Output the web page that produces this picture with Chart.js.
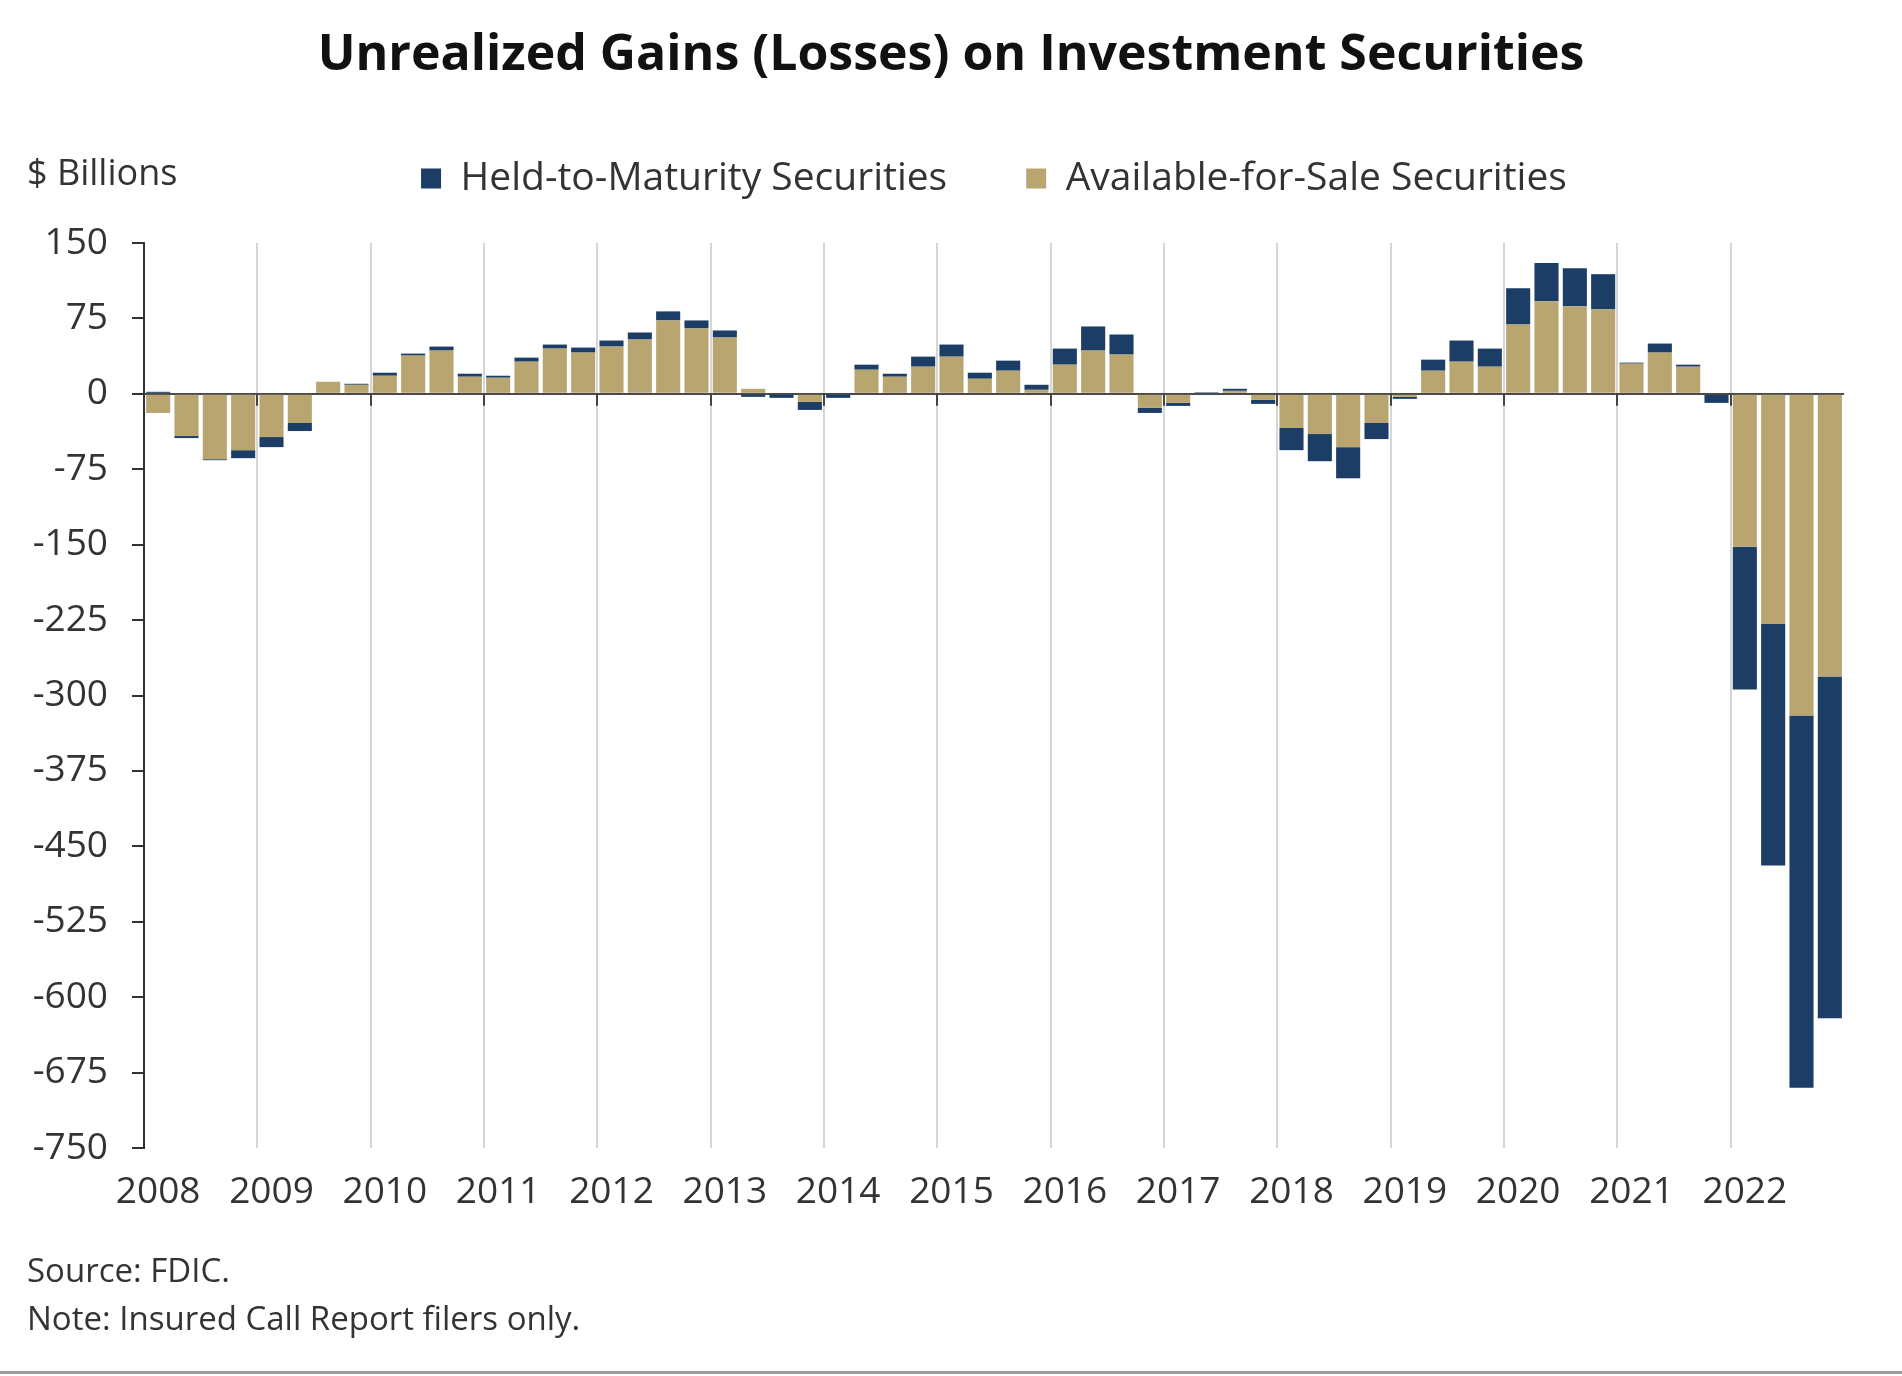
<!DOCTYPE html>
<html>
<head>
<meta charset="utf-8">
<title>Unrealized Gains (Losses) on Investment Securities</title>
<script src="https://cdn.jsdelivr.net/npm/chart.js@4.4.1/dist/chart.umd.min.js"></script>
<style>
  html, body { margin: 0; padding: 0; background: #fff; }
  #wrap { position: relative; width: 1902px; height: 1376px; overflow: hidden;
          font-family: "Open Sans", sans-serif; color: #333; }
  #chart { position: absolute; left: 0; top: 0; }
  .unit { position: absolute; left: 27px; top: 148px; font-size: 36px; line-height: 48px; }
  .foot { position: absolute; left: 27px; font-size: 33px; line-height: 42px; }
  .rule { position: absolute; left: 0; right: 0; bottom: 2px; height: 3px; background: #9c9c9c; }
</style>
</head>
<body>
<div id="wrap">
  <canvas id="chart" width="1902" height="1376"></canvas>
  <div class="unit">$ Billions</div>
  <div class="foot" style="top:1249px">Source: FDIC.</div>
  <div class="foot" style="top:1297px">Note: Insured Call Report filers only.</div>
  <div class="rule"></div>
</div>
<script>
// quarterly data, Q1 2008 .. Q4 2022, $ billions
const years = ["2008", "2009", "2010", "2011", "2012", "2013", "2014", "2015",
               "2016", "2017", "2018", "2019", "2020", "2021", "2022"];
const quarters = ["Q1", "Q2", "Q3", "Q4"];

const availableForSale = [
  -19, -42, -65, -56,   -43, -29, 12, 9,     18, 38, 43, 17,     16, 32, 45, 41,
   47, 54, 73, 65,       56, 5, 1, -8,      -1, 24, 17, 27,      37, 15, 23, 4,
   29, 43, 39, -14,     -9, 1, 3, -6,      -34, -40, -53, -29,   -3, 23, 32, 27,
   69, 92, 87, 84,       30, 41, 27, -1,   -152, -229, -320, -281
];
const heldToMaturity = [
   2, -2, -1, -8,       -10, -8, 0, 1,      3, 2, 4, 3,          2, 4, 4, 5,
   6, 7, 9, 8,           7, -3, -4, -8,     -3, 5, 3, 10,        12, 6, 10, 5,
   16, 24, 20, -5,      -3, 0.5, 2, -4,    -22, -27, -31, -16,   -2, 11, 21, 18,
   36, 38, 38, 35,       1, 9, 2, -8,      -142, -240, -370, -340
];

const yMin = -750;
const yMax = 150;
const yStep = 75;

const categories = [];
years.forEach(y => quarters.forEach(q => categories.push(y + " " + q)));

Chart.defaults.font.family = '"Open Sans", sans-serif';
Chart.defaults.color = "#333";

// gives the legend some room below it, like the original
const legendSpacer = {
  id: "legendSpacer",
  beforeUpdate(chart) {
    const lg = chart.legend;
    if (lg && !lg._spaced) {
      const fit = lg.fit;
      lg.fit = function () { fit.call(this); this.height += 35; };
      lg._spaced = true;
    }
  }
};

// small tick marks hanging under the zero line at each year boundary
const zeroTicks = {
  id: "zeroTicks",
  afterDraw(chart) {
    const x = chart.scales.x, y = chart.scales.y;
    const y0 = y.getPixelForValue(0);
    const half = (x.getPixelForValue(1) - x.getPixelForValue(0)) / 2;
    const ctx = chart.ctx;
    ctx.save();
    ctx.strokeStyle = "#444";
    ctx.lineWidth = 2;
    for (let i = 4; i < categories.length; i += 4) {
      const px = Math.round(x.getPixelForValue(i) - half);
      ctx.beginPath();
      ctx.moveTo(px, y0);
      ctx.lineTo(px, y0 + 12);
      ctx.stroke();
    }
    ctx.restore();
  }
};

new Chart(document.getElementById("chart"), {
  type: "bar",
  data: {
    labels: categories,
    datasets: [
      {
        label: "Available-for-Sale Securities",
        data: availableForSale,
        backgroundColor: "#b8a570"
      },
      {
        label: "Held-to-Maturity Securities",
        data: heldToMaturity,
        backgroundColor: "#1b3d66"
      }
    ]
  },
  options: {
    responsive: false,
    devicePixelRatio: 1,
    animation: false,
    // equal side padding keeps the title centred on the page
    layout: { padding: { left: 29, right: 29, top: 0, bottom: 148 } },
    datasets: {
      bar: { categoryPercentage: 1, barPercentage: 0.85, borderWidth: 0 }
    },
    plugins: {
      title: {
        display: true,
        text: "Unrealized Gains (Losses) on Investment Securities",
        color: "#111",
        font: { size: 50, weight: "bold", lineHeight: 0.96 },
        padding: { top: 32, bottom: 0 }
      },
      legend: {
        display: true,
        position: "top",
        fullSize: false,
        reverse: true,
        labels: {
          boxWidth: 20,
          boxHeight: 20,
          padding: 79,
          color: "#333",
          font: { size: 39 }
        }
      },
      tooltip: { enabled: false }
    },
    scales: {
      x: {
        stacked: true,
        grid: {
          offset: true,
          drawTicks: false,
          lineWidth: 2,
          color: (ctx) => (ctx.index % 4 === 0 ? "#d6d6d6" : "rgba(0,0,0,0)")
        },
        border: { display: false },
        ticks: {
          autoSkip: false,
          maxRotation: 0,
          padding: 22,
          font: { size: 37 },
          color: "#333",
          callback: (val, i) => (i % 4 === 0 ? years[i / 4] : "")
        },
        afterFit: (scale) => { scale.height = 80; }
      },
      y: {
        stacked: true,
        min: yMin,
        max: yMax,
        z: 1,
        grid: {
          lineWidth: 2,
          color: (ctx) => (ctx.tick && ctx.tick.value === 0 ? "#4a4a4a" : "rgba(0,0,0,0)"),
          tickColor: "#333",
          tickLength: 12,
          tickWidth: 2
        },
        border: { display: true, color: "#333", width: 2 },
        ticks: {
          stepSize: yStep,
          padding: 24,
          font: { size: 37 },
          color: "#333"
        },
        afterFit: (scale) => { scale.width = 115; }
      },
      // empty margin on the right of the plot
      yRight: {
        position: "right",
        display: true,
        grid: { display: false, drawTicks: false },
        border: { display: false },
        ticks: { display: false },
        afterFit: (scale) => { scale.width = 29; }
      }
    }
  },
  plugins: [legendSpacer, zeroTicks]
});
</script>
</body>
</html>
